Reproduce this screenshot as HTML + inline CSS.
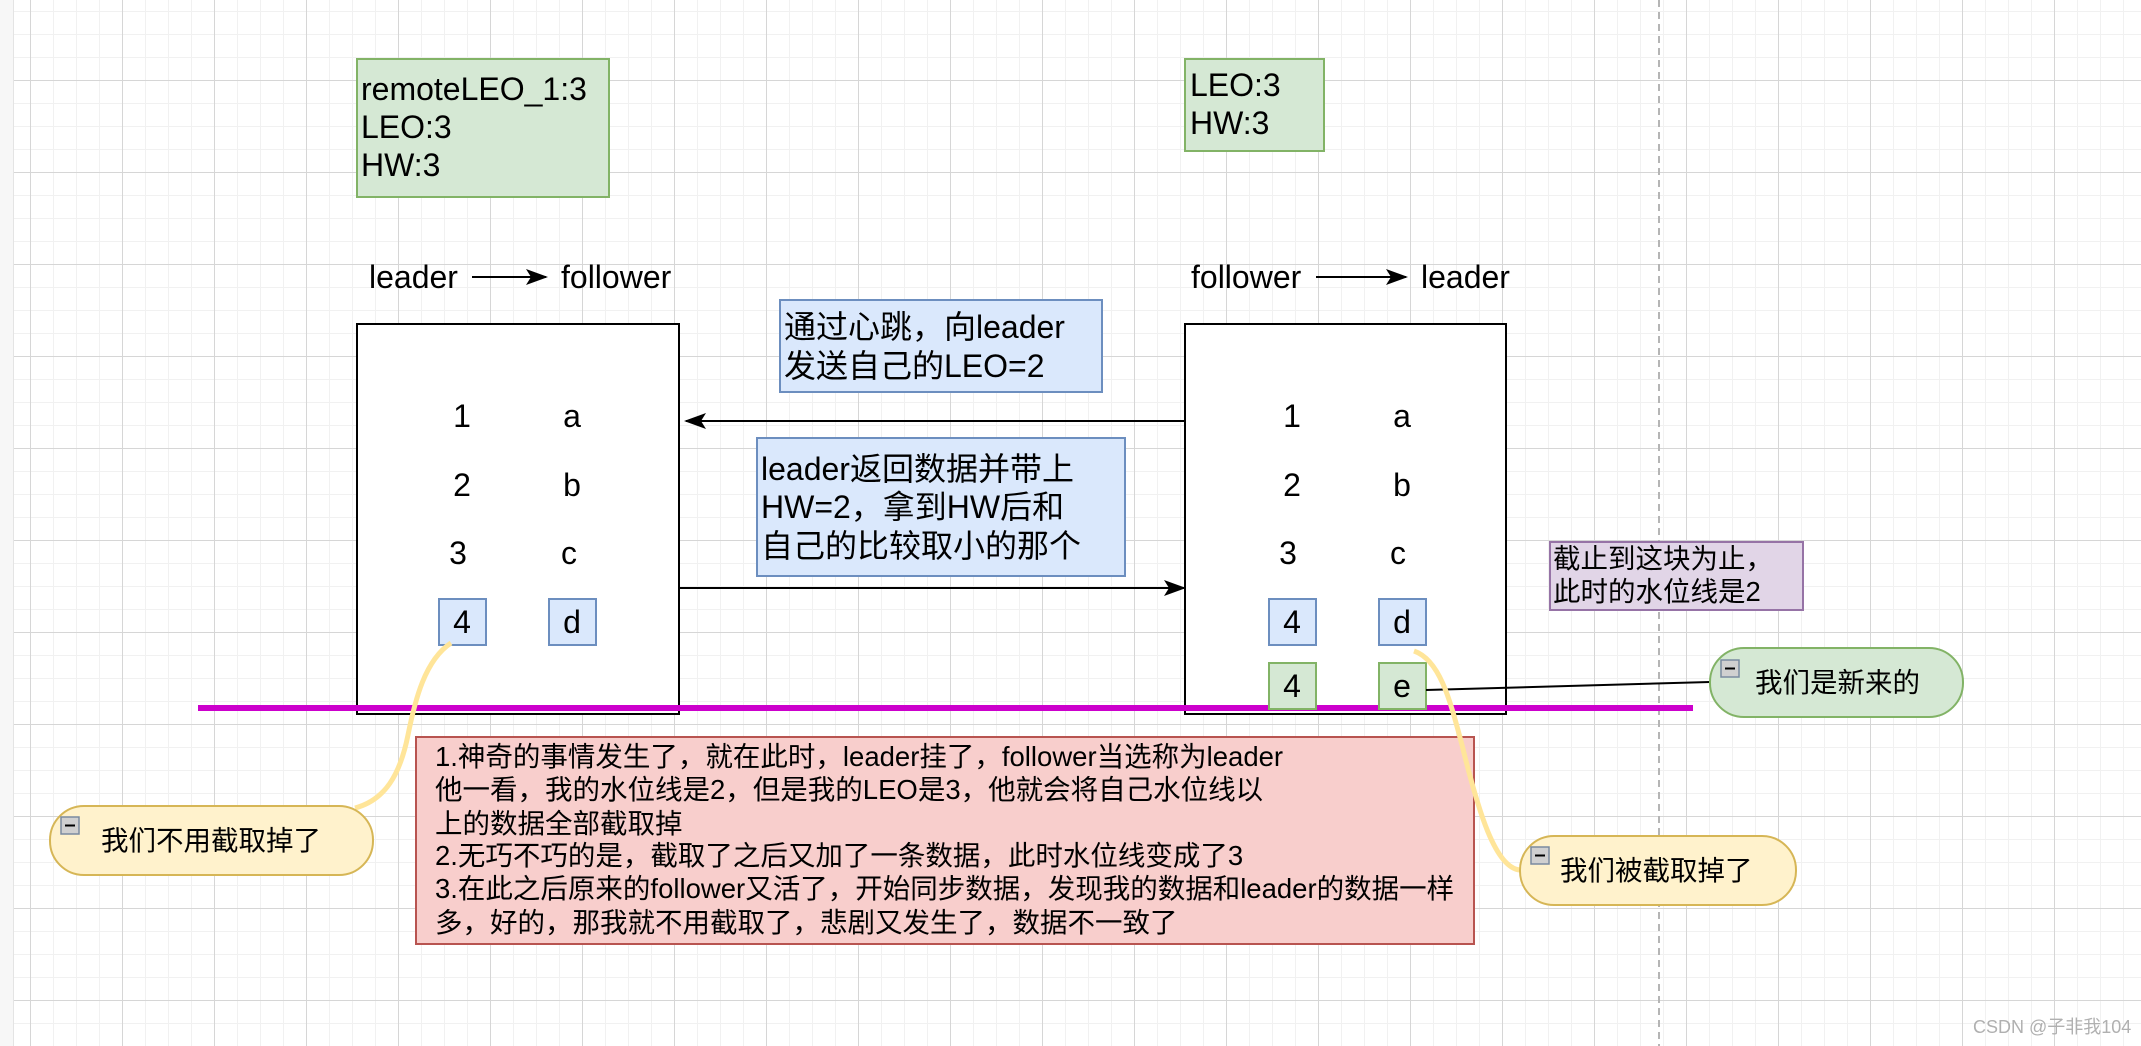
<!DOCTYPE html>
<html><head><meta charset="utf-8"><style>
html,body{margin:0;padding:0;}
body{width:2141px;height:1046px;position:relative;overflow:hidden;background:#fff;}
#strip{position:absolute;left:0;top:0;width:13px;height:1046px;background:#f7f7f7;border-right:1px solid #e4e4e4;}
#grid{position:absolute;left:14px;top:0;width:2127px;height:1046px;
background-image:
linear-gradient(to right,#d6d6d6 1px,transparent 1px),
linear-gradient(to bottom,#d6d6d6 1px,transparent 1px),
linear-gradient(to right,#f1f1f1 1px,transparent 1px),
linear-gradient(to bottom,#f1f1f1 1px,transparent 1px);
background-size:92px 92px,92px 92px,23px 23px,23px 23px;
background-position:16px 0,0 80px,16px 0,0 11px;}
svg{position:absolute;left:0;top:0;}
text{font-family:"Liberation Sans","Noto Sans CJK SC",sans-serif;fill:#000;}
</style></head><body>
<div id="strip"></div><div id="grid"></div>
<svg width="2141" height="1046" viewBox="0 0 2141 1046">
<defs><marker id="ar2" markerWidth="22" markerHeight="16" refX="20" refY="8" orient="auto" markerUnits="userSpaceOnUse"><path d="M0,0 L22,8 L0,16 L5,8 Z" fill="#000"/></marker></defs>
<line x1="1659" y1="0" x2="1659" y2="1046" stroke="#b5b5b5" stroke-width="2" stroke-dasharray="7,5"/>
<rect x="357" y="59" width="252" height="138" fill="#d5e8d4" stroke="#82b366" stroke-width="2"/>
<text x="361" y="100" font-size="32">remoteLEO_1:3</text>
<text x="361" y="138" font-size="32">LEO:3</text>
<text x="361" y="176" font-size="32">HW:3</text>
<rect x="1185" y="59" width="139" height="92" fill="#d5e8d4" stroke="#82b366" stroke-width="2"/>
<text x="1190" y="96" font-size="32">LEO:3</text>
<text x="1190" y="134" font-size="32">HW:3</text>
<text x="369" y="288" font-size="32">leader</text>
<line x1="472" y1="277" x2="546" y2="277" stroke="#000" stroke-width="2" marker-end="url(#ar2)"/>
<text x="561" y="288" font-size="32">follower</text>
<text x="1191" y="288" font-size="32">follower</text>
<line x1="1316" y1="277" x2="1406" y2="277" stroke="#000" stroke-width="2" marker-end="url(#ar2)"/>
<text x="1421" y="288" font-size="32">leader</text>
<rect x="357" y="324" width="322" height="390" fill="#fff" stroke="#000" stroke-width="2"/>
<rect x="1185" y="324" width="321" height="390" fill="#fff" stroke="#000" stroke-width="2"/>
<line x1="198" y1="708" x2="1693" y2="708" stroke="#cc00cc" stroke-width="6"/>
<g font-size="32" text-anchor="middle">
<text x="462" y="427">1</text><text x="572" y="427">a</text>
<text x="462" y="496">2</text><text x="572" y="496">b</text>
<text x="458" y="564">3</text><text x="569" y="564">c</text>
<rect x="439" y="599" width="47" height="46" fill="#dae8fc" stroke="#6c8ebf" stroke-width="2"/>
<rect x="549" y="599" width="47" height="46" fill="#dae8fc" stroke="#6c8ebf" stroke-width="2"/>
<text x="462" y="633">4</text><text x="572" y="633">d</text>
<text x="1292" y="427">1</text><text x="1402" y="427">a</text>
<text x="1292" y="496">2</text><text x="1402" y="496">b</text>
<text x="1288" y="564">3</text><text x="1398" y="564">c</text>
<rect x="1269" y="599" width="47" height="46" fill="#dae8fc" stroke="#6c8ebf" stroke-width="2"/>
<rect x="1379" y="599" width="47" height="46" fill="#dae8fc" stroke="#6c8ebf" stroke-width="2"/>
<text x="1292" y="633">4</text><text x="1402" y="633">d</text>
<rect x="1269" y="663" width="47" height="46" fill="#d5e8d4" stroke="#82b366" stroke-width="2"/>
<rect x="1379" y="663" width="47" height="46" fill="#d5e8d4" stroke="#82b366" stroke-width="2"/>
<text x="1292" y="697">4</text><text x="1402" y="697">e</text>
</g>
<line x1="1185" y1="421" x2="686" y2="421" stroke="#000" stroke-width="2" marker-end="url(#ar2)"/>
<line x1="679" y1="588" x2="1184" y2="588" stroke="#000" stroke-width="2" marker-end="url(#ar2)"/>
<rect x="780" y="300" width="322" height="92" fill="#dae8fc" stroke="#6c8ebf" stroke-width="2"/>
<text x="784" y="338" font-size="32">通过心跳，向leader</text>
<text x="784" y="377" font-size="32">发送自己的LEO=2</text>
<rect x="757" y="438" width="368" height="138" fill="#dae8fc" stroke="#6c8ebf" stroke-width="2"/>
<text x="761" y="480" font-size="32">leader返回数据并带上</text>
<text x="761" y="518" font-size="32">HW=2，拿到HW后和</text>
<text x="761" y="557" font-size="32">自己的比较取小的那个</text>
<rect x="1550" y="542" width="253" height="68" fill="#e1d5e7" stroke="#9673a6" stroke-width="2"/>
<text x="1553" y="568" font-size="27.5">截止到这块为止，</text>
<text x="1553" y="601" font-size="27.5">此时的水位线是2</text>
<line x1="1426" y1="690" x2="1710" y2="682" stroke="#000" stroke-width="2"/>
<rect x="416" y="737" width="1058" height="207" fill="#f8cecc" stroke="#b85450" stroke-width="2"/>
<g font-size="27.5">
<text x="435" y="766">1.神奇的事情发生了，就在此时，leader挂了，follower当选称为leader</text>
<text x="435" y="799">他一看，我的水位线是2，但是我的LEO是3，他就会将自己水位线以</text>
<text x="435" y="833">上的数据全部截取掉</text>
<text x="435" y="865">2.无巧不巧的是，截取了之后又加了一条数据，此时水位线变成了3</text>
<text x="435" y="898">3.在此之后原来的follower又活了，开始同步数据，发现我的数据和leader的数据一样</text>
<text x="435" y="932">多，好的，那我就不用截取了，悲剧又发生了，数据不一致了</text>
</g>
<path d="M451,643 C425,660 415,700 408,735 C400,775 385,800 355,808" fill="none" stroke="#ffe599" stroke-width="5"/>
<path d="M1414,651 C1440,660 1450,700 1462,745 C1478,810 1495,868 1520,870" fill="none" stroke="#ffe599" stroke-width="5"/>
<rect x="1710" y="648" width="253" height="69" rx="34" fill="#d5e8d4" stroke="#82b366" stroke-width="2"/>
<rect x="1721" y="660" width="18" height="17" fill="#d0d0d0" stroke="#7a8aa0" stroke-width="1.5"/><line x1="1725" y1="668.5" x2="1735" y2="668.5" stroke="#000" stroke-width="2"/>
<text x="1755" y="692" font-size="27.5">我们是新来的</text>
<rect x="1520" y="836" width="276" height="69" rx="34" fill="#fff2cc" stroke="#d6b656" stroke-width="2"/>
<rect x="1531" y="847" width="18" height="17" fill="#d0d0d0" stroke="#7a8aa0" stroke-width="1.5"/><line x1="1535" y1="855.5" x2="1545" y2="855.5" stroke="#000" stroke-width="2"/>
<text x="1560" y="880" font-size="27.5">我们被截取掉了</text>
<rect x="50" y="806" width="323" height="69" rx="34" fill="#fff2cc" stroke="#d6b656" stroke-width="2"/>
<rect x="61" y="817" width="18" height="17" fill="#d0d0d0" stroke="#7a8aa0" stroke-width="1.5"/><line x1="65" y1="825.5" x2="75" y2="825.5" stroke="#000" stroke-width="2"/>
<text x="101" y="850" font-size="27.5">我们不用截取掉了</text>
<text x="1973" y="1033" font-size="18" style="fill:#b0b0b0">CSDN @子非我104</text>
</svg>
</body></html>
